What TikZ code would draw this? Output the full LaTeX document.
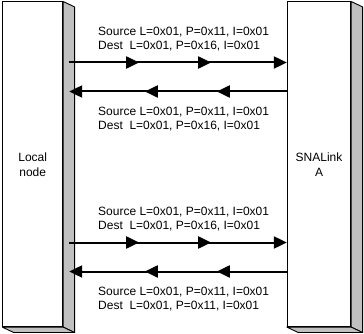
\documentclass[tikz,border=0pt]{standalone}
\usepackage{fontspec}
\setmainfont{Liberation Sans}
\usetikzlibrary{arrows.meta, decorations.markings, positioning}

\definecolor{sideface}{RGB}{192,192,192}

\tikzset{
  station/.style={draw, line width=0.9pt, fill=white, minimum height=324.7pt,
    align=center, inner sep=0pt, font=\fontsize{12}{15}\selectfont},
  depth/.style={draw, line width=0.9pt, fill=sideface, line join=round},
  flowlabel/.style={align=left, inner sep=0pt, anchor=north west,
    font=\fontsize{12}{14.3}\selectfont},
  flow/.style={line width=2pt, -{Triangle[length=13pt, width=12pt]},
    postaction={decorate},
    decoration={markings,
      mark=at position 70pt with {\arrow{Triangle[length=13pt, width=12pt]}},
      mark=at position 142pt with {\arrow{Triangle[length=13pt, width=12pt]}}}}
}

\begin{document}
\begin{tikzpicture}[x=1pt, y=-1pt]
  \useasboundingbox (0,0) rectangle (364,334);

  % the two stations
  \node[station, minimum width=60pt] (local) at (32.7,164.3) {Local\\node};
  \node[station, minimum width=63.4pt] (snalink) at (319,164.3) {SNALink\\A};

  % shaded right side and bottom of each station
  \foreach \st in {local, snalink} {
    \draw[depth] (\st.north east) -- ++(11.4,5.4)
      -- ([shift={(11.4,5.4)}]\st.south east) -- (\st.south east) -- cycle;
    \draw[depth] (\st.south west) -- ++(11.4,5.4)
      -- ([shift={(11.4,5.4)}]\st.south east) -- (\st.south east) -- cycle;
  }

  % two exchanges, each one frame out and one back
  \foreach \dy/\pdest [count=\g] in {0/0x16, 180/0x11} {
    \coordinate (yout\g) at (0,62.5+\dy);
    \coordinate (yback\g) at (0,91.5+\dy);

    \node[flowlabel] (outlbl\g) at (98,27+\dy)
      {Source L=0x01, P=0x11, I=0x01\\Dest\ \ L=0x01, P=0x16, I=0x01};
    \node[flowlabel] (backlbl\g) at (98,107+\dy)
      {Source L=0x01, P=0x11, I=0x01\\Dest\ \ L=0x01, P=\pdest, I=0x01};

    \draw[flow] ([xshift=6pt]local.east |- yout\g) -- (snalink.west |- yout\g);
    \draw[flow] (snalink.west |- yback\g) -- ([xshift=6pt]local.east |- yback\g);
  }
\end{tikzpicture}
\end{document}
